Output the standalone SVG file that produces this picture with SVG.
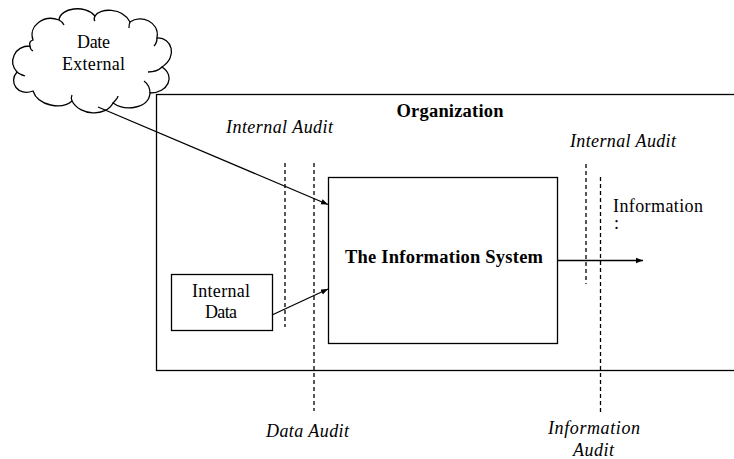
<svg xmlns="http://www.w3.org/2000/svg" width="734" height="459" viewBox="0 0 734 459">
<style>
.ln{fill:none;stroke:#000;stroke-width:1.3}
.box{fill:#fff;stroke:#000;stroke-width:1.3}
.dash{fill:none;stroke:#000;stroke-width:1.3;stroke-dasharray:4,3}
.t{font-family:"Liberation Serif","Times New Roman",serif;font-size:18px;fill:#000}
.i{font-style:italic}
.b{font-weight:bold;font-size:18.5px}
</style>
<defs>
<marker id="ah" viewBox="0 0 10 10" refX="10" refY="5" markerWidth="7" markerHeight="7" markerUnits="userSpaceOnUse" orient="auto">
<path d="M0,1 L10,5 L0,9 Z" fill="#000"/>
</marker>
</defs>
<rect width="734" height="459" fill="#fff"/>
<g id="organization">
<rect x="156.5" y="94.5" width="600" height="276" class="box"/>
<text x="450" y="117" class="t b" text-anchor="middle" textLength="107" lengthAdjust="spacing">Organization</text>
</g>
<g id="cloud">
<path class="box" d="M30,46 C14,46 8,62 17,72 C8,82 18,97 33,91 C38,106 62,110 72,101 C80,116 106,117 113,103 C126,112 149,108 150,93 C168,93 176,76 162,67 C178,57 172,37 157,38 C160,22 141,14 130,22 C122,7 100,8 95,16 C85,4 60,8 59,20 C44,14 28,26 33,40 C30,41 29,43 30,46 Z"/>
<path class="ln" d="M30,46 C30,48 31,50 33,51 M17,72 C19,74 22,75 25,76 M72,101 C71,99 71,97 72,95 M113,103 C116,100 118,98 118,96 M150,93 C150,88 148,84 144,81 M162,67 C158,71 152,72 148,72 M157,38 C157,41 156,44 154,46 M130,22 C129,24 129,26 129,28 M95,16 C94,18 94,20 95,21 M59,20 C61,21 63,23 64,25"/>
<text x="93.5" y="48" class="t" text-anchor="middle" textLength="33" lengthAdjust="spacing">Date</text>
<text x="93.5" y="70" class="t" text-anchor="middle" textLength="63" lengthAdjust="spacing">External</text>
</g>
<g id="internal-data">
<rect x="171.5" y="274.5" width="101" height="56" class="box"/>
<text x="221" y="297" class="t" text-anchor="middle" textLength="58" lengthAdjust="spacing">Internal</text>
<text x="221" y="318" class="t" text-anchor="middle" textLength="32" lengthAdjust="spacing">Data</text>
</g>
<g id="information-system">
<rect x="328.5" y="177.5" width="229" height="166" class="box"/>
<text x="444" y="263" class="t b" text-anchor="middle" textLength="198" lengthAdjust="spacing">The Information System</text>
</g>
<g id="audits">
<line x1="285" y1="163" x2="285" y2="327" class="dash"/>
<line x1="314" y1="163" x2="314" y2="411" class="dash"/>
<line x1="586" y1="164" x2="586" y2="284" class="dash"/>
<line x1="600.5" y1="177" x2="600.5" y2="413" class="dash"/>
<text x="279.5" y="133" class="t i" text-anchor="middle" textLength="107" lengthAdjust="spacing">Internal Audit</text>
<text x="623" y="147" class="t i" text-anchor="middle" textLength="106" lengthAdjust="spacing">Internal Audit</text>
<text x="307.5" y="437" class="t i" text-anchor="middle" textLength="83" lengthAdjust="spacing">Data Audit</text>
<text x="594" y="434" class="t i" text-anchor="middle" textLength="92" lengthAdjust="spacing">Information</text>
<text x="593.5" y="456" class="t i" text-anchor="middle" textLength="41" lengthAdjust="spacing">Audit</text>
</g>
<g id="output">
<text x="613" y="212" class="t" textLength="90" lengthAdjust="spacing">Information</text>
<text x="614" y="229" class="t" font-size="7">:</text>
</g>
<g id="connectors">
<line x1="98" y1="107" x2="328" y2="204.5" class="ln" marker-end="url(#ah)"/>
<line x1="272" y1="315" x2="328" y2="289" class="ln" marker-end="url(#ah)"/>
<line x1="557" y1="260.5" x2="643" y2="260.5" class="ln" marker-end="url(#ah)"/>
</g>
</svg>
